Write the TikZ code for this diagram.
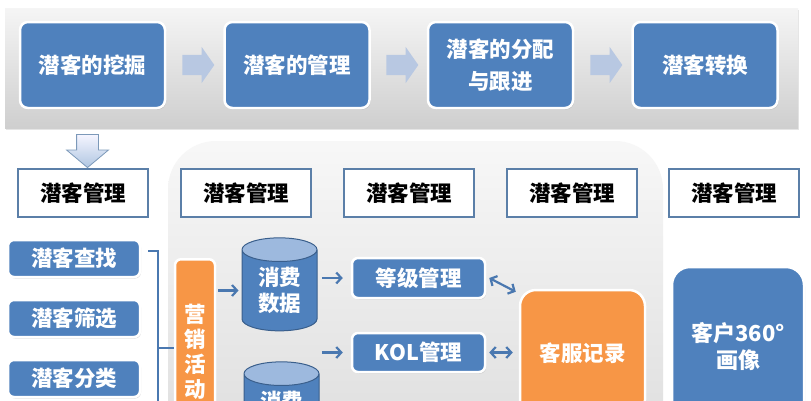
\documentclass[tikz,border=0pt]{standalone}
\usepackage{fontspec}
\setmainfont{Noto Sans CJK SC}
\usetikzlibrary{shapes.geometric,shapes.arrows,shadows,arrows.meta,calc}
\definecolor{cblue}{HTML}{4F81BD}
\definecolor{corange}{HTML}{F79646}
\definecolor{cline}{HTML}{5B7FA8}
\definecolor{carrow}{HTML}{B8C8E2}
\definecolor{ccyltop}{HTML}{9DB9DE}
\definecolor{ccylline}{HTML}{3A5F8C}
\definecolor{cconn}{HTML}{4A78B0}
\newcommand{\dfont}{\bfseries\fontsize{21.5}{26}\selectfont}
\begin{document}
\begin{tikzpicture}[x=1pt,y=-1pt,
  bluebox/.style={draw=white, line width=2.5pt, fill=cblue, rounded corners=8pt,
    text=white, font=\dfont, align=center, inner sep=0pt,
    drop shadow={opacity=0.3,shadow xshift=1pt,shadow yshift=-1.5pt}},
  orbox/.style={bluebox, fill=corange},
  topbox/.style={bluebox, minimum width=145pt, minimum height=86pt},
  hdr/.style={draw=cline, line width=1.6pt, fill=white, font=\dfont, text=black,
    minimum width=130pt, minimum height=48pt, inner sep=0pt},
  listbox/.style={bluebox, rounded corners=6pt, minimum width=132pt, minimum height=37pt},
  midbox/.style={bluebox, rounded corners=6pt, minimum width=133pt, minimum height=40pt},
  blockarrow/.style={single arrow, fill=carrow, draw=none, inner sep=10pt,
    single arrow head extend=8pt, single arrow tip angle=110, minimum height=32pt},
  cyl/.style={cylinder, shape border rotate=90, aspect=0.55, draw=ccylline, line width=1pt,
    cylinder uses custom fill, cylinder body fill=cblue, cylinder end fill=ccyltop,
    minimum width=75pt, minimum height=93pt, text=white, font=\dfont, align=center, inner sep=0pt},
  conn/.style={draw=cconn, line width=2.2pt, -{Straight Barb[length=5pt,width=11pt]}},
  dconn/.style={draw=cconn, line width=2.2pt, {Straight Barb[length=5pt,width=11pt]}-{Straight Barb[length=5pt,width=11pt]}},
]
\useasboundingbox (0,0) rectangle (811,400);
\clip (0,0) rectangle (811,400);
\fill[white] (0,0) rectangle (811,400);

% top band
\path[top color=gray!8, bottom color=gray!38, drop shadow={opacity=0.2,shadow xshift=1pt,shadow yshift=-1.5pt}]
  (5,8) rectangle (798,128);

\node[topbox] (t1) at (92.5,65) {潜客的挖掘};
\node[topbox] (t2) at (297,65) {潜客的管理};
\node[topbox, font=\bfseries\fontsize{21.5}{32}\selectfont] (t3) at (500.5,65) {潜客的分配\\与跟进};
\node[topbox] (t4) at (705,65) {潜客转换};

\node[blockarrow] (a1) at ($(t1.east)!0.5!(t2.west)$) {};
\node[blockarrow] (a2) at ($(t2.east)!0.5!(t3.west)$) {};
\node[blockarrow] (a3) at ($(t3.east)!0.5!(t4.west)$) {};

% gray panel
\path[top color=gray!6, bottom color=gray!28, rounded corners=48pt] (168,141) rectangle (663,480);

% headers
\node[hdr] (h1) at (83,193) {潜客管理};
\node[hdr] (h2) at (246,193) {潜客管理};
\node[hdr] (h3) at (409,193) {潜客管理};
\node[hdr] (h4) at (572,193) {潜客管理};
\node[hdr] (h5) at (734,193) {潜客管理};

% down arrow
\node[single arrow, shape border rotate=270, draw=cline!80, line width=0.8pt,
  top color=blue!4, bottom color=cblue!45, inner sep=10.5pt,
  single arrow head extend=10pt, single arrow tip angle=100, minimum height=33pt]
  (da) at (87.5,146.5) {};

% left list
\node[listbox] (l1) at (74,258.5) {潜客查找};
\node[listbox] (l2) at (74,318.5) {潜客筛选};
\node[listbox] (l3) at (74,378.5) {潜客分类};

% orange column
\node[orbox, rounded corners=6pt, minimum width=40pt, anchor=north, inner ysep=45pt,
  font=\bfseries\fontsize{21.5}{25}\selectfont] (mk) at (195,258) {营\\销\\活\\动};

% bracket
\coordinate (brtop) at (148,251);
\coordinate (brbot) at (158,410);
\coordinate (brmid) at (158,348);
\draw[cconn, line width=1.8pt] (brtop) -| (brbot);
\draw[cconn, line width=1.8pt] (brmid) -- (brmid -| mk.west);

% cylinders
\node[cyl] (c1) at (279.5,290.5) {消费\\数据};
\node[cyl] (c2) at (281.5,414.5) {消费\\数据};

% middle boxes
\node[midbox] (g1) at (418.5,278) {等级管理};
\node[midbox, minimum height=39pt] (g2) at (418.5,352.5) {KOL管理};

% service & portrait
\node[orbox, rounded corners=16pt, minimum width=125pt, minimum height=126pt] (kf) at (582.5,353) {客服记录};
\node[bluebox, rounded corners=18pt, minimum width=132pt, minimum height=159pt,
  font=\bfseries\fontsize{22}{27}\selectfont] (kh) at (738,346.5) {客户360°\\画像};

% connectors
\draw[conn] ([xshift=2pt]mk.east |- c1.center) -- ([xshift=-41pt]c1.center);
\draw[conn] ([xshift=-29pt]g1.west) -- ([xshift=-8pt]g1.west);
\draw[conn] ([xshift=-29pt]g2.west) -- ([xshift=-8pt]g2.west);
\draw[dconn] ([xshift=3pt]g1.east) -- ([xshift=-3pt,yshift=-3pt]kf.north west);
\draw[dconn] ([xshift=3pt]g2.east) -- ([xshift=-6pt]kf.west |- g2.east);
\end{tikzpicture}
\end{document}
